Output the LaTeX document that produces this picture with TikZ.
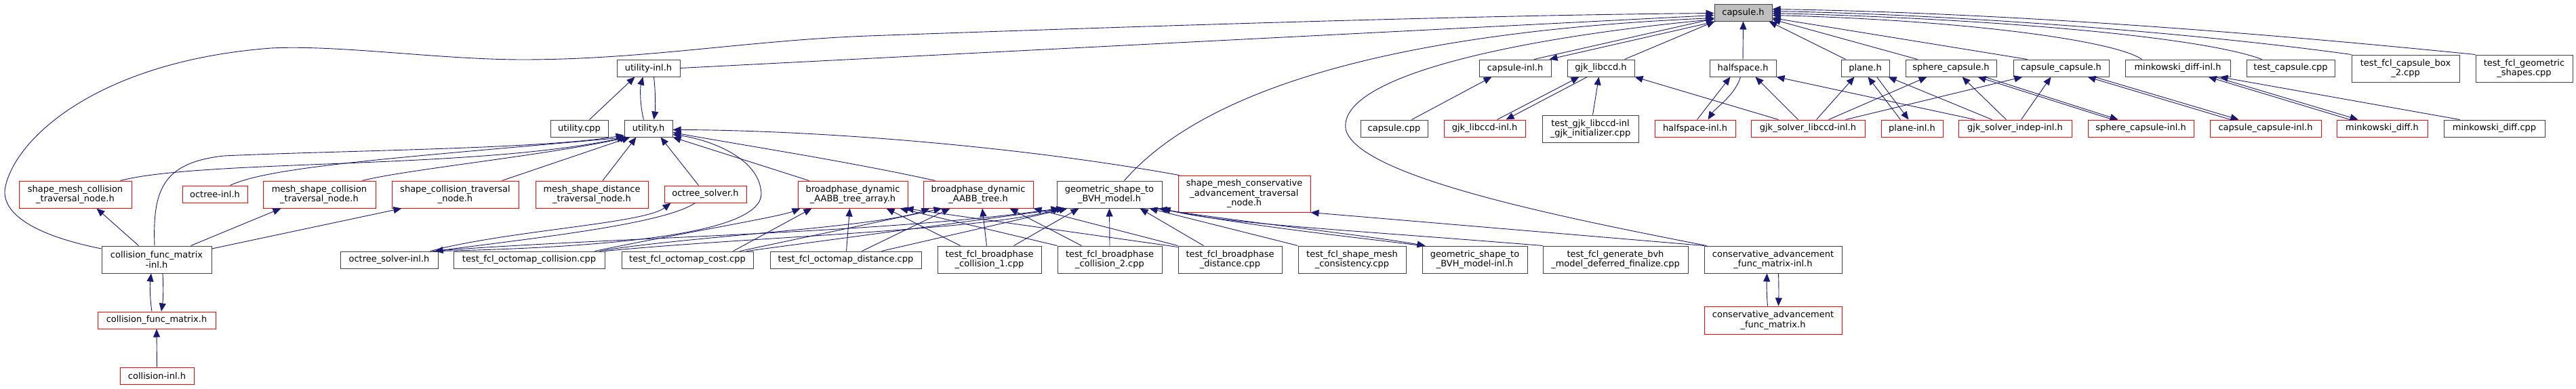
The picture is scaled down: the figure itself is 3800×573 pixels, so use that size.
\documentclass[tikz,border=0pt]{standalone}
\usepackage{fontspec}
\setmainfont{DejaVu Sans}
\usetikzlibrary{arrows.meta}
\definecolor{edgec}{HTML}{191970}
\definecolor{boxk}{HTML}{404040}
\definecolor{boxr}{HTML}{FF0000}
\definecolor{rootfill}{HTML}{BFBFBF}
\begin{document}
\begin{tikzpicture}[x=1pt,y=-1pt,
  nb/.style={draw=boxk, line width=1pt, inner sep=0pt, align=center, font=\fontsize{13}{14.5}\selectfont, text=black},
  nr/.style={nb, draw=boxr},
  sz/.style 2 args={minimum width=#1pt, minimum height=#2pt},
  e/.style={draw=edgec, line width=0.9pt, -{Triangle[length=12pt,width=10pt]}},
]
\useasboundingbox (0,0) rectangle (3800,573);
% row 0
\node[nb, fill=rootfill, sz={85}{25}] (capsule) at (2571.5,18.5) {capsule.h};
% row 1
\node[nb, sz={93}{25}] (utilinl) at (956.5,100.5) {utility-inl.h};
\node[nb, sz={106}{25}] (capinl) at (2235,100.5) {capsule-inl.h};
\node[nb, sz={99}{25}] (gjk) at (2361.5,100.5) {gjk\_libccd.h};
\node[nb, sz={98}{25}] (half) at (2571,100.5) {halfspace.h};
\node[nb, sz={71}{25}] (plane) at (2751.5,100.5) {plane.h};
\node[nb, sz={134}{25}] (sphcap) at (2878,100.5) {sphere\_capsule.h};
\node[nb, sz={141}{25}] (capcap) at (3040.5,100.5) {capsule\_capsule.h};
\node[nb, sz={155}{25}] (minkinl) at (3212.5,100.5) {minkowski\_diff-inl.h};
\node[nb, sz={130}{25}] (testcap) at (3379,100.5) {test\_capsule.cpp};
\node[nb, sz={159}{40}] (box2) at (3548.5,101) {test\_fcl\_capsule\_box\\\_2.cpp};
\node[nb, sz={143}{40}] (geomsh) at (3723.5,101) {test\_fcl\_geometric\\\_shapes.cpp};
% row 2
\node[nb, sz={85}{25}] (utilcpp) at (854.5,189.5) {utility.cpp};
\node[nb, sz={71}{25}] (utilh) at (956.5,189.5) {utility.h};
\node[nb, sz={99}{25}] (capcpp) at (2056.5,189.5) {capsule.cpp};
\node[nr, sz={120}{25}] (gjkinl) at (2190,189.5) {gjk\_libccd-inl.h};
\node[nb, sz={142}{40}] (testgjk) at (2346,190) {test\_gjk\_libccd-inl\\\_gjk\_initializer.cpp};
\node[nr, sz={119}{25}] (halfinl) at (2500.5,189.5) {halfspace-inl.h};
\node[nr, sz={168}{25}] (gjkslv) at (2667,189.5) {gjk\_solver\_libccd-inl.h};
\node[nr, sz={91}{25}] (planeinl) at (2820.5,189.5) {plane-inl.h};
\node[nr, sz={167}{25}] (gjkind) at (2972.5,189.5) {gjk\_solver\_indep-inl.h};
\node[nr, sz={156}{25}] (sphcapinl) at (3158,189.5) {sphere\_capsule-inl.h};
\node[nr, sz={164}{25}] (capcapinl) at (3342,189.5) {capsule\_capsule-inl.h};
\node[nr, sz={134}{25}] (mink) at (3514,189.5) {minkowski\_diff.h};
\node[nb, sz={149}{25}] (minkcpp) at (3679.5,189.5) {minkowski\_diff.cpp};
% row 3
\node[nr, sz={166}{40}] (smc) at (111,287) {shape\_mesh\_collision\\\_traversal\_node.h};
\node[nr, sz={96}{25}] (octinl) at (317,286.5) {octree-inl.h};
\node[nr, sz={166}{40}] (msc) at (471,287) {mesh\_shape\_collision\\\_traversal\_node.h};
\node[nr, sz={187}{40}] (sct) at (671.5,287) {shape\_collision\_traversal\\\_node.h};
\node[nr, sz={166}{40}] (msd) at (873,287) {mesh\_shape\_distance\\\_traversal\_node.h};
\node[nr, sz={121}{25}] (octslv) at (1040.5,286.5) {octree\_solver.h};
\node[nr, sz={162}{40}] (bpa) at (1258,287) {broadphase\_dynamic\\\_AABB\_tree\_array.h};
\node[nr, sz={162}{40}] (bpt) at (1443,287) {broadphase\_dynamic\\\_AABB\_tree.h};
\node[nb, sz={155}{40}] (gsb) at (1636.5,287) {geometric\_shape\_to\\\_BVH\_model.h};
\node[nr, sz={195}{54}] (smca) at (1835.5,286) {shape\_mesh\_conservative\\\_advancement\_traversal\\\_node.h};
% row 4
\node[nb, sz={162}{40}] (cfminl) at (231,383) {collision\_func\_matrix\\-inl.h};
\node[nb, sz={144}{25}] (octslvinl) at (574,383.5) {octree\_solver-inl.h};
\node[nb, sz={223}{25}] (toc) at (780.5,383.5) {test\_fcl\_octomap\_collision.cpp};
\node[nb, sz={194}{25}] (tocost) at (1014,383.5) {test\_fcl\_octomap\_cost.cpp};
\node[nb, sz={223}{25}] (tod) at (1247.5,383.5) {test\_fcl\_octomap\_distance.cpp};
\node[nb, sz={153}{40}] (tbc1) at (1459.5,383) {test\_fcl\_broadphase\\\_collision\_1.cpp};
\node[nb, sz={154}{40}] (tbc2) at (1637,383) {test\_fcl\_broadphase\\\_collision\_2.cpp};
\node[nb, sz={153}{40}] (tbd) at (1814.5,383) {test\_fcl\_broadphase\\\_distance.cpp};
\node[nb, sz={159}{40}] (tsmc) at (1994.5,383) {test\_fcl\_shape\_mesh\\\_consistency.cpp};
\node[nb, sz={155}{40}] (gsbinl) at (2175.5,383) {geometric\_shape\_to\\\_BVH\_model-inl.h};
\node[nb, sz={214}{40}] (tgen) at (2383,383) {test\_fcl\_generate\_bvh\\\_model\_deferred\_finalize.cpp};
\node[nb, sz={203}{40}] (cafminl) at (2615.5,383) {conservative\_advancement\\\_func\_matrix-inl.h};
% row 5
\node[nr, sz={174}{25}] (cfm) at (231,472.5) {collision\_func\_matrix.h};
\node[nr, sz={203}{41}] (cafm) at (2615.5,472.5) {conservative\_advancement\\\_func\_matrix.h};
% row 6
\node[nr, sz={109}{25}] (colinl) at (231.5,554.5) {collision-inl.h};

% ---- edges into capsule.h
\draw[e] (utilinl.east) -- ([yshift=-4pt]capsule.west);
\draw[e] ([yshift=16pt]cfminl.west) .. controls (40,345) and (0,310) .. (8,275) .. controls (25,200) and (150,90) .. (400,71) .. controls (500,66) and (650,88) .. (771,88) .. controls (950,88) and (1100,60) .. (1280,53) .. controls (1700,38) and (2200,22) .. ([yshift=-1pt]capsule.west);
\draw[e] ([xshift=22pt]gsb.north) .. controls (1760,150) and (2000,50) .. ([yshift=-8pt]capsule.west);
\draw[e] ([xshift=4pt]cafminl.north west) .. controls (2300,320) and (2000,260) .. (1985,190) .. controls (1975,110) and (2250,55) .. ([yshift=-10pt]capsule.west);
\draw[e] ([xshift=28pt]capinl.north) -- ([yshift=4pt]capsule.south west);
\draw[e] ([xshift=3pt]capsule.south west) -- ([xshift=-3pt]capinl.north east);
\draw[e] ([xshift=35pt]gjk.north) -- ([xshift=1pt]capsule.south west);
\draw[e] (half.north) -- (capsule.south);
\draw[e] ([xshift=7pt]plane.north west) -- ([xshift=-5pt]capsule.south east);
\draw[e] ([xshift=18pt]sphcap.north west) -- ([yshift=3pt]capsule.south east);
\draw[e] ([xshift=21pt]capcap.north west) -- ([yshift=-8pt]capsule.east);
\draw[e] ([xshift=25pt]minkinl.north west) .. controls (3120,60) and (2900,30) .. ([yshift=-4pt]capsule.east);
\draw[e] ([xshift=23pt]testcap.north west) .. controls (3250,55) and (2950,28) .. ([yshift=-1pt]capsule.east);
\draw[e] (box2.north west) .. controls (3250,50) and (2900,22) .. ([yshift=2pt]capsule.east);
\draw[e] (geomsh.north west) .. controls (3250,40) and (2900,18) .. ([yshift=5pt]capsule.east);

% ---- rows 1-2 (right cluster)
\draw[e] ([xshift=76pt]capcpp.north west) -- ([xshift=19pt]capinl.south west);
\draw[e] ([xshift=79pt]gjkinl.north west) -- ([xshift=18pt]gjk.south west);
\draw[e] ([xshift=30pt]gjk.south west) -- ([xshift=92pt]gjkinl.north west);
\draw[e] ([xshift=75pt]testgjk.north west) -- ([xshift=47pt]gjk.south west);
\draw[e] ([xshift=41pt]gjkslv.north west) -- (gjk.south east);
\draw[e] ([xshift=63pt]halfinl.north west) -- ([xshift=31pt]half.south west);
\draw[e] ([xshift=46pt]half.south west) .. controls (2560,140) and (2530,160) .. ([xshift=79pt]halfinl.north west);
\draw[e] ([xshift=70pt]gjkslv.north west) -- ([xshift=68pt]half.south west);
\draw[e] ([xshift=25pt]gjkind.north west) -- (half.south east);
\draw[e] ([xshift=97pt]gjkslv.north west) -- ([xshift=20pt]plane.south west);
\draw[e] ([xshift=29pt]planeinl.north west) -- ([xshift=40pt]plane.south west);
\draw[e] ([xshift=53pt]plane.south west) -- ([xshift=41pt]planeinl.north west);
\draw[e] ([xshift=50pt]gjkind.north west) -- ([xshift=-2pt]plane.south east);
\draw[e] ([xshift=115pt]gjkslv.north west) -- ([xshift=32pt]sphcap.south west);
\draw[e] ([xshift=71pt]gjkind.north west) -- ([xshift=84pt]sphcap.south west);
\draw[e] ([xshift=37pt]sphcapinl.north west) -- ([xshift=107pt]sphcap.south west);
\draw[e] ([xshift=117pt]sphcap.south west) -- ([xshift=45pt]sphcapinl.north west);
\draw[e] ([xshift=140pt]gjkslv.north west) -- ([xshift=14pt]capcap.south west);
\draw[e] ([xshift=93pt]gjkind.north west) -- ([xshift=56pt]capcap.south west);
\draw[e] ([xshift=31pt]capcapinl.north west) -- ([xshift=110pt]capcap.south west);
\draw[e] ([xshift=120pt]capcap.south west) -- ([xshift=43pt]capcapinl.north west);
\draw[e] ([xshift=20pt]mink.north west) -- ([xshift=123pt]minkinl.south west);
\draw[e] ([xshift=133pt]minkinl.south west) -- ([xshift=32pt]mink.north west);
\draw[e] ([xshift=24pt]minkcpp.north west) -- ([xshift=140pt]minkinl.south west);

% ---- utility cluster
\draw[e] ([xshift=58pt]utilcpp.north west) -- ([xshift=27pt]utilinl.south west);
\draw[e] ([xshift=-7pt]utilh.north) .. controls (944,155) and (944,130) .. ([xshift=-8pt]utilinl.south);
\draw[e] ([xshift=8pt]utilinl.south) .. controls (967,135) and (967,160) .. ([xshift=8pt]utilh.north);
\draw[e] ([xshift=150pt]smc.north west) .. controls (300,235) and (700,250) .. ([xshift=2pt]utilh.south west);
\draw[e] ([xshift=-3pt]cfminl.north) .. controls (225,280) and (240,240) .. (330,230) .. controls (500,222) and (800,220) .. ([yshift=3pt]utilh.south west);
\draw[e] ([xshift=71pt]octinl.north west) .. controls (400,245) and (600,232) .. ([xshift=4pt]utilh.south west);
\draw[e] ([xshift=147pt]msc.north west) .. controls (600,250) and (800,230) .. ([xshift=6pt]utilh.south west);
\draw[e] ([xshift=-25pt]sct.north east) -- ([xshift=9pt]utilh.south west);
\draw[e] ([xshift=16pt]msd.north) -- ([xshift=18pt]utilh.south west);
\draw[e] ([xshift=-10pt]octslv.north) -- ([xshift=-18pt]utilh.south east);
\draw[e] (octslvinl.north east) .. controls (900,365) and (1125,345) .. (1123,285) .. controls (1120,230) and (1040,205) .. ([yshift=-9pt]utilh.east);
\draw[e] ([xshift=17pt]bpa.north west) -- (utilh.south east);
\draw[e] ([xshift=18pt]bpt.north west) .. controls (1250,238) and (1100,215) .. ([yshift=-6pt]utilh.east);
\draw[e] ([xshift=2pt]smca.north west) .. controls (1500,215) and (1200,192) .. ([yshift=-2pt]utilh.east);

% ---- left lower cluster
\draw[e] ([xshift=55pt]cfminl.north west) -- ([xshift=115pt]smc.south west);
\draw[e] ([xshift=132pt]cfminl.north west) -- ([xshift=27pt]msc.south west);
\draw[e] ([yshift=16pt]cfminl.east) -- ([xshift=15pt]sct.south west);
\draw[e] ([xshift=-7pt]cfm.north) .. controls (221,440) and (221,420) .. ([xshift=-8pt]cfminl.south);
\draw[e] ([xshift=9pt]cfminl.south) .. controls (241,420) and (241,440) .. ([xshift=7pt]cfm.north);
\draw[e] (colinl.north) -- (cfm.south);
\draw[e] ([xshift=-15pt]octslv.south) .. controls (980,330) and (800,350) .. ([xshift=-5pt]octslvinl.north east);
\draw[e] ([xshift=-12pt]octslvinl.north east) .. controls (750,340) and (950,330) .. ([xshift=10pt]octslv.south west);
\draw[e] ([xshift=-8pt]octslvinl.north east) .. controls (900,350) and (1300,345) .. ([xshift=4pt]gsb.south west);

% ---- test files to broadphase / geometric
\draw[e] ([xshift=-15pt]toc.north east) .. controls (1000,345) and (1150,320) .. ([xshift=4pt]bpa.south west);
\draw[e] ([xshift=-8pt]toc.north east) .. controls (1000,350) and (1300,335) .. ([xshift=10pt]bpt.south west);
\draw[e] (toc.north east) .. controls (1100,350) and (1450,340) .. ([xshift=6pt]gsb.south west);
\draw[e] ([xshift=-30pt]tocost.north east) -- ([xshift=21pt]bpa.south west);
\draw[e] ([xshift=-20pt]tocost.north east) -- ([xshift=28pt]bpt.south west);
\draw[e] ([xshift=-10pt]tocost.north east) -- ([xshift=12pt]gsb.south west);
\draw[e] ([xshift=113pt]tod.north west) -- ([xshift=77pt]bpa.south west);
\draw[e] ([xshift=136pt]tod.north west) -- ([xshift=40pt]bpt.south west);
\draw[e] ([xshift=165pt]tod.north west) -- ([xshift=16pt]gsb.south west);
\draw[e] ([xshift=34pt]tbc1.north west) -- ([xshift=131pt]bpa.south west);
\draw[e] ([xshift=-4pt]tbc1.north) -- ([xshift=6pt]bpt.south);
\draw[e] ([xshift=113pt]tbc1.north west) -- ([xshift=33pt]gsb.south west);
\draw[e] (tbc2.north west) -- ([xshift=151pt]bpa.south west);
\draw[e] ([xshift=36pt]tbc2.north west) -- ([xshift=128pt]bpt.south west);
\draw[e] (tbc2.north) -- (gsb.south);
\draw[e] ([yshift=-2pt]tbd.north west) -- ([xshift=-4pt]bpa.south east);
\draw[e] (tbd.north west) -- (bpt.south east);
\draw[e] ([xshift=38pt]tbd.north west) -- ([xshift=-33pt]gsb.south east);
\draw[e] (tsmc.north west) -- ([xshift=-19pt]gsb.south east);
\draw[e] ([xshift=-12pt]gsb.south east) .. controls (1850,330) and (2000,345) .. ([xshift=5pt]gsbinl.north west);
\draw[e] (gsbinl.north west) .. controls (2000,350) and (1850,335) .. ([xshift=-5pt]gsb.south east);
\draw[e] (tgen.north west) .. controls (2000,340) and (1800,330) .. (gsb.south east);

% ---- conservative advancement
\draw[e] (cafminl.north west) -- (smca.south east);
\draw[e] ([xshift=-8pt]cafm.north) .. controls (2606,435) and (2606,420) .. ([xshift=-9pt]cafminl.south);
\draw[e] ([xshift=8pt]cafminl.south) .. controls (2624,420) and (2624,435) .. ([xshift=8pt]cafm.north);
\end{tikzpicture}
\end{document}
